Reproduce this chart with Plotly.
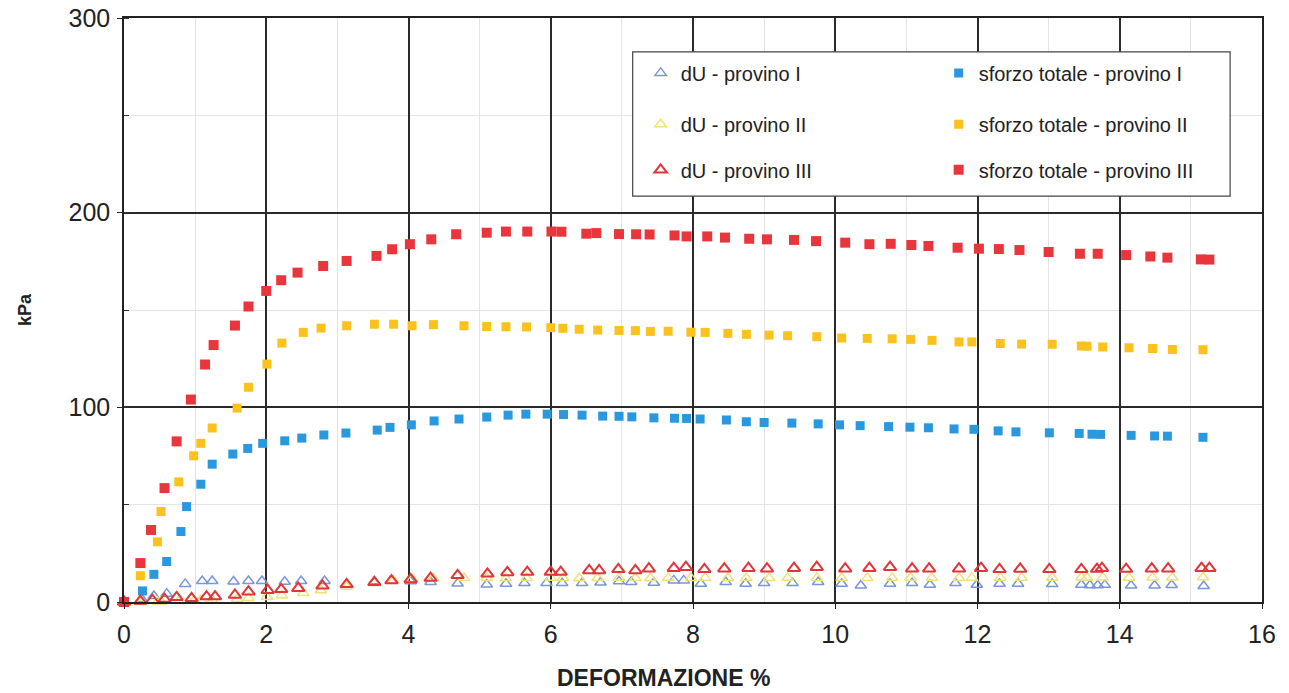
import plotly.graph_objects as go

# ---------------- data ----------------
# sforzo totale - provino I (blue squares)
x_s1 = [0, 0.26, 0.42, 0.60, 0.80, 0.88, 1.08, 1.24, 1.53, 1.74, 1.95, 2.26, 2.50, 2.81, 3.12, 3.56, 3.74,
        4.04, 4.36, 4.71, 5.10, 5.40, 5.65, 5.95, 6.18, 6.44, 6.73, 6.96, 7.14, 7.45, 7.74, 7.91, 8.10, 8.47,
        8.75, 9.00, 9.39, 9.76, 10.06, 10.35, 10.75, 11.05, 11.31, 11.67, 11.95, 12.29, 12.54, 13.01, 13.43,
        13.61, 13.73, 14.16, 14.49, 14.67, 15.17]
y_s1 = [0, 5.7, 14.2, 20.8, 36.2, 49.0, 60.5, 70.8, 76.0, 78.9, 81.5, 82.8, 84.2, 85.8, 86.8, 88.3, 89.7,
        91.0, 93.0, 94.0, 95.0, 96.0, 96.5, 96.5, 96.3, 96.0, 95.5, 95.4, 95.1, 94.6, 94.4, 94.3, 94.0, 93.5,
        92.6, 92.2, 91.9, 91.5, 91.0, 90.6, 90.1, 89.8, 89.5, 88.9, 88.7, 87.9, 87.4, 86.9, 86.6,
        86.2, 86.1, 85.6, 85.3, 85.2, 84.6]

# sforzo totale - provino II (yellow squares)
x_s2 = [0, 0.23, 0.47, 0.52, 0.77, 0.98, 1.08, 1.24, 1.59, 1.75, 2.01, 2.22, 2.52, 2.77, 3.13, 3.52, 3.79,
        4.05, 4.35, 4.78, 5.10, 5.37, 5.66, 6.00, 6.17, 6.40, 6.66, 6.96, 7.19, 7.40, 7.65, 7.97, 8.17, 8.49,
        8.75, 9.07, 9.33, 9.74, 10.09, 10.45, 10.80, 11.06, 11.36, 11.74, 11.92, 12.32, 12.62, 13.05, 13.46,
        13.54, 13.76, 14.13, 14.46, 14.74, 15.17]
y_s2 = [0, 13.5, 30.9, 46.5, 61.7, 75.1, 81.5, 89.4, 99.6, 110.3, 122.2, 133.0, 138.5, 140.7, 141.9, 142.7, 142.7,
        141.9, 142.5, 141.9, 141.5, 141.4, 141.3, 140.9, 140.6, 140.1, 139.7, 139.5, 139.4, 139.0, 139.1, 138.6, 138.5, 138.0,
        137.5, 137.1, 136.8, 136.3, 135.6, 135.4, 135.2, 134.9, 134.4, 133.6, 133.6, 132.8, 132.5, 132.4, 131.5,
        131.4, 131.0, 130.6, 130.2, 129.7, 129.6]

# sforzo totale - provino III (red squares)
x_s3 = [0, 0.23, 0.38, 0.57, 0.74, 0.94, 1.14, 1.26, 1.56, 1.75, 2.00, 2.21, 2.44, 2.80, 3.13, 3.55, 3.77,
        4.02, 4.32, 4.67, 5.10, 5.37, 5.67, 6.01, 6.15, 6.50, 6.64, 6.96, 7.20, 7.39, 7.74, 7.91, 8.20, 8.45,
        8.79, 9.04, 9.42, 9.73, 10.14, 10.48, 10.78, 11.07, 11.31, 11.72, 12.02, 12.30, 12.59, 13.00, 13.44,
        13.69, 14.09, 14.43, 14.67, 15.14, 15.26]
y_s3 = [0, 20.0, 37.0, 58.5, 82.5, 104.0, 122.0, 132.0, 142.0, 151.8, 159.8, 165.3, 169.2, 172.6, 175.2, 177.8, 181.2,
        183.8, 186.3, 188.9, 189.7, 190.3, 190.3, 190.3, 190.2, 189.2, 189.5, 189.0, 188.9, 188.8, 188.3, 187.8, 187.8, 187.2,
        186.6, 186.3, 186.0, 185.4, 184.6, 183.8, 184.0, 183.4, 182.9, 182.0, 181.5, 181.3, 180.8, 179.8, 178.9,
        178.9, 178.2, 177.5, 176.9, 176.0, 175.9]

# dU - provino I (blue triangles)
x_u1 = [0, 0.25, 0.42, 0.60, 0.86, 1.10, 1.24, 1.54, 1.75, 1.94, 2.26, 2.49, 2.82, 3.52, 4.03, 4.31, 4.69,
        5.10, 5.37, 5.63, 5.94, 6.16, 6.44, 6.70, 6.96, 7.13, 7.45, 7.73, 7.87, 8.11, 8.46, 8.74, 9.00, 9.40,
        9.76, 10.09, 10.36, 10.77, 11.08, 11.33, 11.69, 11.99, 12.31, 12.57, 13.05, 13.46, 13.58, 13.69, 13.79,
        14.16, 14.49, 14.73, 15.18]
y_u1 = [0, 1.5, 3.1, 4.3, 9.3, 10.8, 10.8, 10.5, 10.8, 10.8, 10.4, 10.8, 10.8, 10.6, 10.6, 10.3, 9.5,
        9.0, 9.4, 9.7, 9.7, 9.7, 9.7, 10.0, 10.6, 10.3, 9.9, 11.1, 11.1, 9.4, 10.3, 9.4, 9.7, 9.7,
        10.3, 9.4, 8.5, 9.4, 9.7, 8.9, 9.7, 8.9, 9.4, 9.4, 9.2, 8.9, 8.6, 8.6, 8.8,
        8.5, 8.5, 8.7, 8.2]

# dU - provino II (yellow triangles)
x_u2 = x_s2
y_u2 = [0, 0, 0.2, 0.3, 0.5, 0.7, 0.9, 1.1, 1.6, 2.0, 2.6, 3.4, 4.6, 6.0, 7.8, 9.8, 11.0,
        11.8, 12.2, 12.3, 12.3, 12.2, 12.3, 12.4, 12.3, 12.2, 12.3, 12.4, 12.3, 12.2, 12.4, 12.3, 12.4, 12.3,
        12.4, 12.3, 12.4, 12.3, 12.4, 12.3, 12.4, 12.5, 12.4, 12.3, 12.4, 12.5, 12.4, 12.5, 12.6,
        12.5, 12.6, 12.5, 12.6, 12.6, 12.7]

# dU - provino III (red triangles)
x_u3 = [0, 0.23, 0.40, 0.57, 0.74, 0.95, 1.16, 1.28, 1.56, 1.75, 2.02, 2.21, 2.45, 2.79, 3.13, 3.52, 3.76,
        4.03, 4.31, 4.69, 5.11, 5.39, 5.67, 6.00, 6.14, 6.54, 6.68, 6.95, 7.19, 7.38, 7.73, 7.90, 8.16, 8.44,
        8.78, 9.04, 9.42, 9.74, 10.14, 10.48, 10.77, 11.08, 11.32, 11.74, 12.05, 12.31, 12.60, 13.01, 13.46,
        13.68, 13.75, 14.09, 14.45, 14.68, 15.15, 15.26]
y_u3 = [0, 0.5, 0.9, 1.5, 2.4, 1.9, 2.8, 2.8, 3.6, 5.3, 6.1, 6.5, 7.1, 8.3, 9.1, 10.1, 11.0,
        11.6, 12.3, 13.7, 14.5, 15.2, 15.4, 15.4, 15.4, 16.2, 16.2, 16.8, 16.2, 17.1, 17.4, 17.9, 16.8, 17.1,
        17.4, 17.1, 17.4, 17.9, 17.1, 17.4, 17.9, 17.1, 17.1, 17.1, 17.4, 16.8, 17.0, 16.8, 16.8,
        16.9, 17.4, 16.9, 17.1, 17.1, 17.4, 17.4]

x_ticks = [0, 2, 4, 6, 8, 10, 12, 14, 16]
y_ticks = [0, 100, 200, 300]

FONT = "Liberation Sans, Arial, sans-serif"

fig = go.Figure()

def tri(x, y, name, color, legend, size=10, lw=1.6):
    fig.add_trace(go.Scatter(x=x, y=y, mode="markers", name=name, legend=legend, cliponaxis=False,
                             marker=dict(symbol="triangle-up-open", size=size, color=color,
                                         line=dict(width=lw, color=color))))

def sq(x, y, name, color, legend, size=9):
    fig.add_trace(go.Scatter(x=x, y=y, mode="markers", name=name, legend=legend, cliponaxis=False,
                             marker=dict(symbol="square", size=size, color=color,
                                         line=dict(width=0))))

tri(x_u1, y_u1, "dU - provino I", "#7896d8", "legend", 10, 1.5)
sq(x_s1, y_s1, "sforzo totale - provino I", "#2a98df", "legend", 9)
tri(x_u2, y_u2, "dU - provino II", "#f2e07c", "legend2", 10, 1.5)
sq(x_s2, y_s2, "sforzo totale - provino II", "#fbc21d", "legend2", 9)
tri(x_u3, y_u3, "dU - provino III", "#e0363a", "legend3", 11, 2.0)
sq(x_s3, y_s3, "sforzo totale - provino III", "#e9363d", "legend3", 10)

leg_common = dict(orientation="h", x=0.454, xanchor="left", yanchor="middle",
                  entrywidth=253, entrywidthmode="pixels", bgcolor="rgba(0,0,0,0)",
                  borderwidth=0, itemwidth=30, traceorder="normal",
                  font=dict(family=FONT, size=20, color="#222"))

fig.update_layout(
    width=1289, height=693,
    margin=dict(l=124, r=27, t=18, b=91, autoexpand=False),
    paper_bgcolor="white", plot_bgcolor="white",
    font=dict(family=FONT, color="#222"),
    legend=dict(y=0.906, **leg_common),
    legend2=dict(y=0.818, **leg_common),
    legend3=dict(y=0.740, **leg_common),
    xaxis=dict(range=[0, 16], tickvals=x_ticks, ticktext=[str(v) for v in x_ticks],
               showgrid=True, gridcolor="#2a2a2a", gridwidth=1.5,
               showline=True, linecolor="#222", linewidth=1.5, mirror=True,
               ticks="outside", ticklen=5, tickcolor="#222", ticklabelstandoff=4,
               tickfont=dict(family=FONT, size=25, color="#222"),
               minor=dict(dtick=1, showgrid=True, gridcolor="#e4e4e4", gridwidth=1),
               zeroline=False, automargin=False),
    yaxis=dict(range=[0, 300], tickvals=y_ticks, ticktext=[str(v) for v in y_ticks],
               showgrid=True, gridcolor="#2a2a2a", gridwidth=1.5,
               showline=True, linecolor="#222", linewidth=1.5, mirror=True,
               ticks="outside", ticklen=5, tickcolor="#222", ticklabelstandoff=2,
               tickfont=dict(family=FONT, size=25, color="#222"),
               minor=dict(dtick=50, showgrid=True, gridcolor="#e4e4e4", gridwidth=1,
                          ticks="inside", ticklen=5, tickcolor="#333"),
               title=dict(text="<b>kPa</b>", font=dict(family=FONT, size=18, color="#222"), standoff=32),
               zeroline=False, automargin=False),
    shapes=[dict(type="rect", xref="paper", yref="paper", x0=0.447, x1=0.972, y0=0.695, y1=0.942,
                 line=dict(color="#444", width=1.2), fillcolor="white", layer="above")],
    annotations=[dict(text="<b>DEFORMAZIONE %</b>", xref="paper", yref="paper",
                      x=0.474, y=-0.13, xanchor="center", yanchor="middle", showarrow=False,
                      font=dict(family=FONT, size=23, color="#222"))],
)

fig.write_html("out.html")
